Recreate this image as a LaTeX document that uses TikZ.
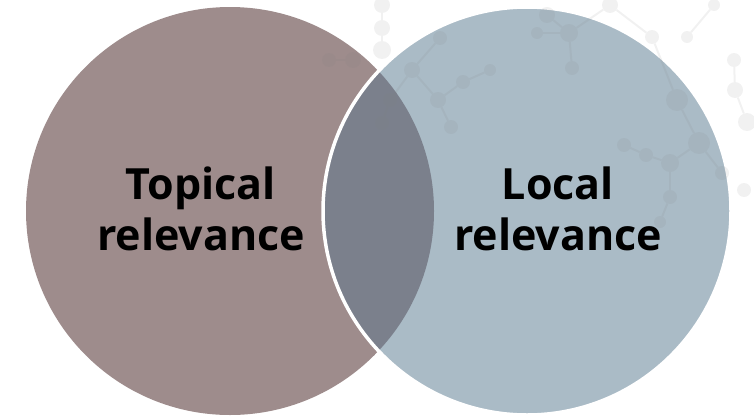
\documentclass[tikz,border=0pt]{standalone}
\usepackage{fontspec}
\setmainfont{Open Sans}
\definecolor{topicalfill}{RGB}{158,140,140}
\definecolor{localfill}{RGB}{170,187,198}
\definecolor{overlapfill}{RGB}{123,128,140}
\tikzset{
  setlabel/.style={anchor=base, font=\fontsize{43}{51}\selectfont\bfseries, text=black},
  atom/.style={circle, fill=gray, fill opacity=0.11, inner sep=0pt, minimum size=#1},
  atom/.default=16pt,
  bond/.style={draw=gray, draw opacity=0.11, line width=2pt}
}
\begin{document}
\begin{tikzpicture}[x=1pt, y=-1pt]
        \useasboundingbox (0,0) rectangle (754,415);
        % the two sets
        \fill[topicalfill] (230,211) circle (204);
        \fill[localfill] (527,211) circle (204);
        \begin{scope}
          \clip (230,211) circle (204);
          \fill[overlapfill] (527,211) circle (204);
        \end{scope}
        \draw[white, line width=3.5pt] (527,211) circle (204);
        % faint molecules behind the right set
        \foreach \n/\x/\y/\s in {a1/382/5/16, a2/382/28/16, a3/382/50/18, b1/329/60/14, b2/353/60/16,
            c1/412/70/16, c2/440/38/14, c3/438/100/16, c4/451/127/14, c5/463/82/14, c6/490/70/12,
            c7/390/100/14, c8/382/123/14, d1/547/15/16, d2/569/33/18, d3/572/68/14, d4/537/33/12,
            e1/610/5/16, e2/652/37/14, e3/677/100/22, e4/699/143/22, e5/670/163/18, e6/646/155/14,
            e7/624/145/14, e8/722/173/14, e9/670/197/14, e10/660/222/12, f1/734/60/14, f2/735/90/16,
            f3/747/122/18, f4/687/37/12, f5/714/5/12, f6/744/190/14}
          \node[atom=\s pt] (\n) at (\x,\y) {};
        \foreach \p/\q in {a1/a2, a2/a3, b1/b2, c2/c1, c1/c3, c3/c4, c3/c5, c5/c6, c1/c7, c7/c8,
            d1/d2, d2/d3, d4/d2, d2/e1, e1/e2, e2/e3, e3/e4, e4/e5, e5/e6, e6/e7, e4/e8, e5/e9,
            e9/e10, f1/f2, f2/f3, f4/f5}
          \draw[bond] (\p) -- (\q);
        % labels
        \node[setlabel] (topical) at (201,199) {Topical};
        \node[setlabel] (topicalrel) at (201,250) {relevance};
        \node[setlabel] (local) at (558,199) {Local};
        \node[setlabel] (localrel) at (558,250) {relevance};
      \end{tikzpicture}
\end{document}
